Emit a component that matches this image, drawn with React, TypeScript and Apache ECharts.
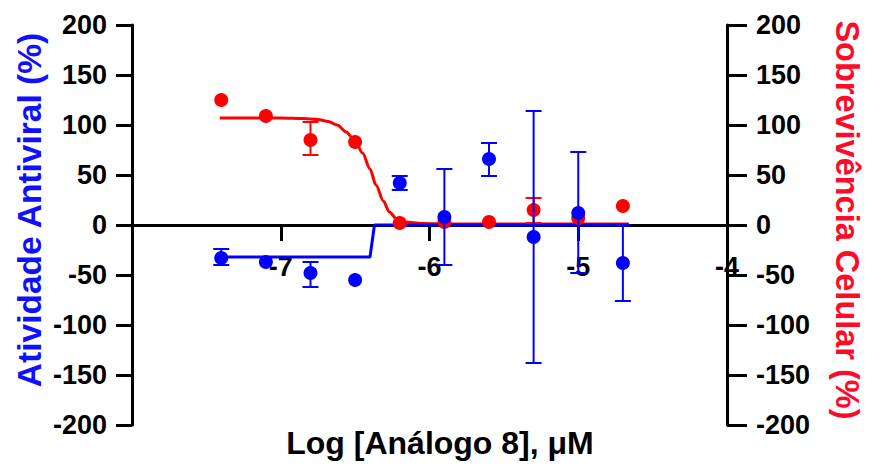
import React, { useEffect, useRef } from "react";
import * as echarts from "echarts";

// Log concentration (x)
const logConc = [-7.4, -7.1, -6.8, -6.5, -6.2, -5.9, -5.6, -5.3, -5.0, -4.7];

// Antiviral activity (%) – blue, left axis
const antiviralMean = [-33, -37, -48, -55, 42, 8, 66, -12, 12, -38];
const antiviralLow = [-40, null, -62, null, 35, -40, 49, -138, -48, -76];
const antiviralHigh = [-24, null, -37, null, 49, 56, 82, 114, 73, 0];

// Cell survival (%) – red, right axis
const survivalMean = [125, 109, 85, 83, 2, 3, 3, 15, 7, 19];
const survivalLow = [null, null, 70, null, null, null, null, 2, null, null];
const survivalHigh = [null, null, 103, null, null, null, null, 27, null, null];

// Fitted curves
const antiviralFitX = [-7.41, -6.4, -6.37, -4.66];
const antiviralFitY = [-32, -32, 0, 0];
const survivalFitX = [-7.41, -7.0, -6.85, -6.75, -6.68, -6.62, -6.56, -6.5, -6.45, -6.4, -6.36, -6.31, -6.27, -6.22, -6.16, -6.05, -5.8, -4.66];
const survivalFitY = [107, 107, 106.5, 105.5, 103.5, 100, 93, 84, 72, 56, 40, 24, 13, 6, 3, 1.5, 1, 1];

// Axis ticks
const xMin = -8;
const xMax = -4;
const yMin = -200;
const yMax = 200;
const yInterval = 50;

const BLUE = "#0000ff";
const RED = "#ff0000";
const FONT = '"Liberation Sans", Arial, Helvetica, sans-serif';

function zip(xs: number[], ys: number[]) {
  return xs.map((x, i) => [x, ys[i]]);
}

function errData(xs: number[], lo: (number | null)[], hi: (number | null)[]) {
  const out: number[][] = [];
  xs.forEach((x, i) => {
    if (lo[i] != null && hi[i] != null) out.push([x, lo[i] as number, hi[i] as number]);
  });
  return out;
}

function errRender(color: string) {
  return (params: any, api: any) => {
    const x = api.value(0);
    const p1 = api.coord([x, api.value(1)]);
    const p2 = api.coord([x, api.value(2)]);
    const w = 8;
    const style = { stroke: color, lineWidth: 2 };
    return {
      type: "group",
      children: [
        { type: "line", shape: { x1: p1[0], y1: p1[1], x2: p2[0], y2: p2[1] }, style },
        { type: "line", shape: { x1: p1[0] - w, y1: p1[1], x2: p1[0] + w, y2: p1[1] }, style },
        { type: "line", shape: { x1: p2[0] - w, y1: p2[1], x2: p2[0] + w, y2: p2[1] }, style },
      ],
    };
  };
}

export default function App() {
  const ref = useRef<HTMLDivElement>(null);

  useEffect(() => {
    if (!ref.current) return;
    const chart = echarts.init(ref.current, undefined, { renderer: "svg" });

    const tickLabel = {
      fontFamily: FONT,
      fontWeight: "bold" as const,
      fontSize: 27,
      color: "#000",
    };

    const yAxisCommon = {
      type: "value" as const,
      min: yMin,
      max: yMax,
      interval: yInterval,
      splitLine: { show: false },
      axisLine: { show: true, lineStyle: { color: "#000", width: 3 } },
    };

    const plotTop = 25;
    const plotBottom = 41;
    const plotHeight = 466 - plotTop - plotBottom;

    chart.setOption({
      animation: false,
      backgroundColor: "#fff",
      grid: { left: 132, right: 142, top: plotTop, bottom: plotBottom, containLabel: false, outerBoundsMode: "none" },
      xAxis: {
        type: "value",
        position: "bottom",
        // place the x axis on y = 0 (middle of the symmetric y range)
        offset: -plotHeight / 2,
        min: xMin,
        max: xMax,
        interval: 1,
        splitLine: { show: false },
        axisLine: { show: true, onZero: false, lineStyle: { color: "#000", width: 3 } },
        axisTick: { show: true, inside: false, length: 16, lineStyle: { color: "#000", width: 3 } },
        axisLabel: {
          ...tickLabel,
          margin: 28,
          formatter: (v: number) => (v === xMin ? "" : String(v)),
        },
      },
      yAxis: [
        {
          ...yAxisCommon,
          position: "left",
          axisTick: { show: true, inside: false, length: 16, lineStyle: { color: "#000", width: 3 } },
          axisLabel: { ...tickLabel, margin: 25 },
        },
        {
          ...yAxisCommon,
          position: "right",
          axisTick: { show: true, inside: false, length: 20, lineStyle: { color: "#000", width: 3 } },
          axisLabel: { ...tickLabel, margin: 29 },
        },
      ],
      graphic: [
        {
          type: "text",
          x: 440,
          y: 443,
          style: {
            text: "Log [Análogo 8], μM",
            fontFamily: FONT,
            fontWeight: "bold",
            fontSize: 32,
            fill: "#000",
            align: "center",
            verticalAlign: "middle",
            textAlign: "center",
            textVerticalAlign: "middle",
          },
        },
        {
          type: "text",
          x: 29,
          y: 210,
          rotation: Math.PI / 2,
          style: {
            text: "Atividade Antiviral (%)",
            fontFamily: FONT,
            fontWeight: "bold",
            fontSize: 33.5,
            fill: "#1010ff",
            align: "center",
            verticalAlign: "middle",
            textAlign: "center",
            textVerticalAlign: "middle",
          },
        },
        {
          type: "text",
          x: 847,
          y: 220,
          rotation: -Math.PI / 2,
          style: {
            text: "Sobrevivência Celular (%)",
            fontFamily: FONT,
            fontWeight: "bold",
            fontSize: 32.5,
            fill: "#ff0a28",
            align: "center",
            verticalAlign: "middle",
            textAlign: "center",
            textVerticalAlign: "middle",
          },
        },
      ],
      series: [
        {
          name: "Sobrevivência fit",
          type: "line",
          yAxisIndex: 1,
          data: zip(survivalFitX, survivalFitY),
          smooth: 0.3,
          smoothMonotone: "x",
          showSymbol: false,
          symbol: "none",
          lineStyle: { color: RED, width: 3 },
          z: 2,
        },
        {
          name: "Antiviral fit",
          type: "line",
          yAxisIndex: 0,
          data: zip(antiviralFitX, antiviralFitY),
          showSymbol: false,
          symbol: "none",
          lineStyle: { color: BLUE, width: 3 },
          z: 3,
        },
        {
          name: "Sobrevivência err",
          type: "custom",
          yAxisIndex: 1,
          data: errData(logConc, survivalLow, survivalHigh),
          encode: { x: 0, y: [1, 2] },
          renderItem: errRender(RED),
          z: 4,
        },
        {
          name: "Sobrevivência",
          type: "scatter",
          yAxisIndex: 1,
          data: zip(logConc, survivalMean),
          symbolSize: 14,
          itemStyle: { color: RED, opacity: 1 },
          z: 4,
        },
        {
          name: "Antiviral err",
          type: "custom",
          yAxisIndex: 0,
          data: errData(logConc, antiviralLow, antiviralHigh),
          encode: { x: 0, y: [1, 2] },
          renderItem: errRender(BLUE),
          z: 5,
        },
        {
          name: "Antiviral",
          type: "scatter",
          yAxisIndex: 0,
          data: zip(logConc, antiviralMean),
          symbolSize: 14,
          itemStyle: { color: BLUE, opacity: 1 },
          z: 5,
        },
      ],
    });

    return () => chart.dispose();
  }, []);

  return (
    <div
      ref={ref}
      style={{ position: "absolute", left: 0, top: 0, width: 869, height: 466, background: "#fff" }}
    />
  );
}
